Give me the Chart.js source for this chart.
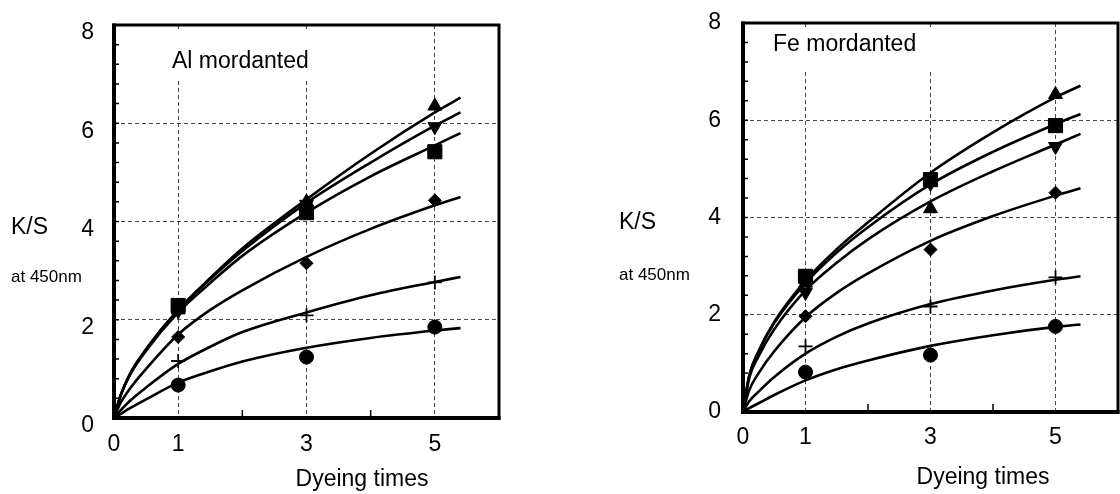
<!DOCTYPE html>
<html><head><meta charset="utf-8">
<script src="https://cdn.jsdelivr.net/npm/chart.js@4/dist/chart.umd.min.js"></script>
<style>
html,body{margin:0;padding:0;background:#fff;}
#wrap{position:relative;width:1120px;height:494px;overflow:hidden;}
canvas{position:absolute;top:0;}
</style></head><body>
<div id="wrap">
<canvas id="al" width="560" height="494" style="left:0"></canvas>
<canvas id="fe" width="560" height="494" style="left:560px"></canvas>
</div>
<script>
// ---------- data ----------
const xTickLabels = [0, 1, 3, 5];
const yTickLabels = [0, 2, 4, 6, 8];
const markerX = [1, 3, 5];
const curveX = [0, 0.1, 0.25, 0.5, 1, 1.5, 2, 3, 4, 5, 5.4];

// Al mordanted: measured points
const alTriUp   = [2.20, 4.40, 6.35];
const alTriDown = [2.18, 4.35, 5.93];
const alSquare  = [2.29, 4.18, 5.42];
const alDiamond = [1.65, 3.15, 4.43];
const alPlus    = [1.16, 2.09, 2.76];
const alCircle  = [0.67, 1.24, 1.85];
// Al mordanted: fitted curves read at curveX
const alCurveTriUp   = [0, 0.45, 0.90, 1.40, 2.20, 2.85, 3.45, 4.45, 5.38, 6.22, 6.52];
const alCurveTriDown = [0, 0.45, 0.90, 1.40, 2.20, 2.83, 3.40, 4.38, 5.20, 5.95, 6.22];
const alCurveSquare  = [0, 0.45, 0.88, 1.37, 2.15, 2.75, 3.30, 4.18, 4.92, 5.55, 5.80];
const alCurveDiamond = [0, 0.30, 0.60, 1.00, 1.70, 2.20, 2.60, 3.28, 3.85, 4.33, 4.50];
const alCurvePlus    = [0, 0.15, 0.35, 0.62, 1.10, 1.45, 1.75, 2.15, 2.50, 2.77, 2.87];
const alCurveCircle  = [0, 0.08, 0.20, 0.38, 0.72, 0.95, 1.15, 1.43, 1.63, 1.78, 1.83];

// Fe mordanted: measured points
const feTriUp   = [2.65, 4.18, 6.53];
const feSquare  = [2.79, 4.78, 5.89];
const feTriDown = [2.46, 4.70, 5.46];
const feDiamond = [1.97, 3.34, 4.51];
const fePlus    = [1.35, 2.17, 2.77];
const feCircle  = [0.82, 1.17, 1.76];
// Fe mordanted: fitted curves read at curveX
const feCurveTriUp   = [0, 0.75, 1.25, 1.85, 2.70, 3.35, 3.90, 4.92, 5.75, 6.47, 6.71];
const feCurveSquare  = [0, 0.75, 1.25, 1.83, 2.65, 3.28, 3.80, 4.68, 5.35, 5.92, 6.13];
const feCurveTriDown = [0, 0.70, 1.15, 1.70, 2.50, 3.07, 3.55, 4.33, 4.95, 5.50, 5.72];
const feCurveDiamond = [0, 0.45, 0.80, 1.25, 1.95, 2.45, 2.85, 3.52, 4.03, 4.45, 4.60];
const feCurvePlus    = [0, 0.22, 0.42, 0.72, 1.20, 1.55, 1.82, 2.22, 2.50, 2.72, 2.79];
const feCurveCircle  = [0, 0.08, 0.18, 0.35, 0.65, 0.88, 1.06, 1.36, 1.58, 1.75, 1.80];

// ---------- presentation ----------
const FONT = '"Liberation Sans", Arial, Helvetica, sans-serif';
const W = 560, H = 494;
const markerStyles = {
  triUp:   {style: 'triangle', r: 8, rot: 0},
  triDown: {style: 'triangle', r: 8, rot: 180},
  square:  {style: 'rect', r: 10, rot: 0},
  diamond: {style: 'rectRot', r: 6.5, rot: 0},
  plus:    {style: 'cross', r: 7, rot: 0},
  circle:  {style: 'circle', r: 7, rot: 0}
};

const panels = [
  {
    id: 'al', title: 'Al mordanted',
    area: {left: 114, right: 499, top: 25, bottom: 418},
    yLabelOffset: 8, yPad: 20, xPad: 13,
    titlePos: {x: 172, y: 62}, ksPos: {x: 11, y: 228}, nmPos: {x: 11, y: 277}, xtPos: {x: 362, y: 480},
    mask: {x: 150, y: 29, w: 172, h: 50},
    curves: [alCurveTriUp, alCurveTriDown, alCurveSquare, alCurveDiamond, alCurvePlus, alCurveCircle],
    markers: [['triUp', alTriUp], ['triDown', alTriDown], ['square', alSquare], ['diamond', alDiamond], ['plus', alPlus], ['circle', alCircle]]
  },
  {
    id: 'fe', title: 'Fe mordanted',
    area: {left: 183, right: 558, top: 23, bottom: 412},
    yLabelOffset: 0, yPad: 22, xPad: 12,
    titlePos: {x: 213, y: 45}, ksPos: {x: 59, y: 223}, nmPos: {x: 59, y: 275}, xtPos: {x: 423, y: 478},
    mask: {x: 190, y: 27, w: 188, h: 43},
    curves: [feCurveTriUp, feCurveSquare, feCurveTriDown, feCurveDiamond, feCurvePlus, feCurveCircle],
    markers: [['triUp', feTriUp], ['square', feSquare], ['triDown', feTriDown], ['diamond', feDiamond], ['plus', fePlus], ['circle', feCircle]]
  }
];

const decoPlugin = {
  id: 'deco',
  beforeDatasetsDraw(chart, args, o) {
    const ctx = chart.ctx;
    ctx.save();
    ctx.fillStyle = '#fff';
    ctx.fillRect(o.mask.x, o.mask.y, o.mask.w, o.mask.h);
    ctx.restore();
  },
  afterDraw(chart, args, o) {
    const ctx = chart.ctx, a = chart.chartArea;
    const xs = chart.scales.x, ys = chart.scales.y;
    ctx.save();
    // minor ticks
    ctx.strokeStyle = '#000';
    ctx.lineWidth = 1.5;
    ctx.beginPath();
    for (let k = 1; k < 20; k++) {
      const py = ys.getPixelForValue(k * 0.4);
      ctx.moveTo(a.left, py); ctx.lineTo(a.left + 5, py);
    }
    [2, 4].forEach(v => {
      const px = xs.getPixelForValue(v);
      ctx.moveTo(px, a.bottom); ctx.lineTo(px, a.bottom - 8);
    });
    ctx.stroke();
    // frame
    ctx.lineWidth = 3;
    ctx.strokeRect(a.left, a.top, a.right - a.left, a.bottom - a.top);
    ctx.lineWidth = 4;
    ctx.beginPath();
    ctx.moveTo(a.left, a.top - 1.5); ctx.lineTo(a.left, a.bottom); ctx.lineTo(a.right + 1.5, a.bottom);
    ctx.stroke();
    // texts
    ctx.fillStyle = '#000';
    ctx.textBaseline = 'middle';
    ctx.textAlign = 'left';
    ctx.font = '23px ' + FONT;
    ctx.fillText(o.title, o.titlePos.x, o.titlePos.y);
    ctx.fillText('K/S', o.ksPos.x, o.ksPos.y);
    ctx.font = '17px ' + FONT;
    ctx.fillText('at 450nm', o.nmPos.x, o.nmPos.y);
    ctx.font = '23px ' + FONT;
    ctx.textAlign = 'center';
    ctx.fillText('Dyeing times', o.xtPos.x, o.xtPos.y);
    ctx.restore();
  }
};

function zeroPad(s) { s.paddingTop = 0; s.paddingBottom = 0; s.paddingLeft = 0; s.paddingRight = 0; }

function makeChart(p) {
  const datasets = [];
  p.curves.forEach(c => datasets.push({
    type: 'line',
    data: curveX.map((x, i) => ({x: x, y: c[i]})),
    borderColor: '#000', borderWidth: 2.6, pointRadius: 0,
    cubicInterpolationMode: 'monotone', fill: false, order: 2
  }));
  p.markers.forEach(([key, vals]) => {
    const m = markerStyles[key];
    datasets.push({
      type: 'scatter',
      data: markerX.map((x, i) => ({x: x, y: vals[i]})),
      pointStyle: m.style, pointRotation: m.rot, pointRadius: m.r,
      backgroundColor: '#000', borderColor: '#000',
      borderWidth: m.style === 'cross' ? 1.8 : 1,
      showLine: false, order: 1
    });
  });
  const gridColor = vals => ctx => (ctx.tick && vals.includes(ctx.tick.value)) ? 'rgba(40,40,40,0.85)' : 'rgba(0,0,0,0)';
  new Chart(document.getElementById(p.id), {
    data: {datasets},
    plugins: [decoPlugin],
    options: {
      responsive: false, animation: false, devicePixelRatio: 1,
      layout: {autoPadding: false, padding: {left: 0, top: p.area.top, right: W - p.area.right, bottom: 0}},
      plugins: {legend: {display: false}, tooltip: {enabled: false},
        deco: {title: p.title, titlePos: p.titlePos, ksPos: p.ksPos, nmPos: p.nmPos, xtPos: p.xtPos, mask: p.mask}},
      scales: {
        x: {
          type: 'linear', min: 0, max: 6,
          afterFit(s) { s.height = H - p.area.bottom; zeroPad(s); },
          ticks: {stepSize: 1, autoSkip: false, maxRotation: 0, padding: p.xPad, color: '#000',
            font: {size: 23, family: FONT},
            callback: v => xTickLabels.includes(v) ? String(v) : ''},
          grid: {drawTicks: false, color: gridColor([1, 3, 5]), lineWidth: 1},
          border: {display: false, dash: [4, 3]}
        },
        y: {
          type: 'linear', min: 0, max: 8,
          afterFit(s) { s.width = p.area.left; zeroPad(s); },
          ticks: {stepSize: 2, padding: p.yPad, color: '#000', labelOffset: p.yLabelOffset,
            font: {size: 23, family: FONT},
            callback: v => yTickLabels.includes(v) ? String(v) : ''},
          grid: {drawTicks: false, color: gridColor([2, 4, 6]), lineWidth: 1},
          border: {display: false, dash: [4, 3]}
        }
      }
    }
  });
}
panels.forEach(makeChart);
</script>
</body></html>
